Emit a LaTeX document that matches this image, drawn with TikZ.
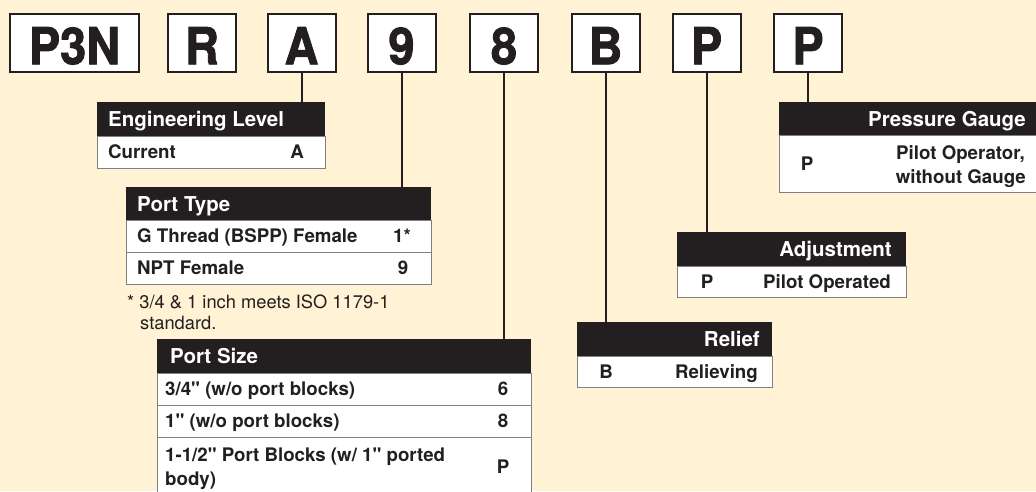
\documentclass[tikz,border=0pt]{standalone}
\usepackage{fontspec}
\setmainfont{TeX Gyre Heros}[Ligatures=TeXOff]
\newfontfamily\myheavy[FakeStretch=0.92, FakeBold=1.6]{texgyreheros-bold.otf}
\definecolor{cream}{HTML}{FFF2D5}
\definecolor{ink}{HTML}{231F20}
\definecolor{rulec}{HTML}{808080}
\newcommand\mybigfont{\myheavy\fontsize{51}{51}\selectfont}
\newcommand\myhdfont{\fontsize{20.5}{22}\selectfont\bfseries}
\newcommand\myrwfont{\fontsize{18.7}{21}\selectfont\bfseries}
\newcommand\myftfont{\fontsize{18.3}{21}\selectfont}
\newcommand\mylowr[1]{\lower3pt\hbox{#1}}
\begin{document}
\begin{tikzpicture}[x=1pt,y=-1pt,
  topbox/.style={draw=ink, line width=2pt, fill=white, minimum height=58pt,
    minimum width=68pt, inner sep=0pt, font=\mybigfont, text=ink,
    text height=36.5pt, text depth=0pt},
  headbox/.style={fill=ink, inner sep=0pt, outer sep=0pt, anchor=north west},
  bodybox/.style={fill=white, draw=rulec, line width=0.8pt, inner sep=0pt,
    outer sep=0pt, anchor=north west},
  htxt/.style={text=white, font=\myhdfont, inner sep=0pt, text height=14.7pt, text depth=0pt},
  rtxt/.style={text=ink, font=\myrwfont, inner sep=0pt, text height=13.4pt, text depth=0pt},
  ftxt/.style={text=ink, font=\myftfont, inner sep=0pt, anchor=base west},
  conn/.style={draw=ink, line width=2pt}
]
\clip (0,0) rectangle (1036,491);
\fill[cream] (0,0) rectangle (1036,491);

% top code boxes
\node[topbox, minimum width=129pt] (tP3N) at (74.5,43) {\mylowr{P3N}};
\node[topbox] (tR) at (202,43) {\mylowr{R}};
\node[topbox] (tA) at (301.5,43) {\mylowr{A}};
\node[topbox] (t9) at (401.5,43) {\mylowr{9}};
\node[topbox] (t8) at (504,43) {\mylowr{8}};
\node[topbox] (tB) at (605.5,43) {\mylowr{B}};
\node[topbox] (tP) at (706.5,43) {\mylowr{P}};
\node[topbox] (tPP) at (808,43) {\mylowr{P}};

% Engineering Level
\node[headbox, minimum width=228pt, minimum height=34pt] (engH) at (97,102) {};
\node[bodybox, minimum width=228pt, minimum height=32pt] (engB) at (97,136) {};
\node[htxt, anchor=west] (engHt) at (108,119) {Engineering Level};
\node[rtxt, anchor=west] (engR1) at (108,152) {Current};
\node[rtxt] (engR1c) at (297,152) {A};

% Port Type
\node[headbox, minimum width=305pt, minimum height=33pt] (ptH) at (126,187) {};
\node[bodybox, minimum width=305pt, minimum height=32pt] (ptB1) at (126,220) {};
\node[bodybox, minimum width=305pt, minimum height=32pt] (ptB2) at (126,252) {};
\node[htxt, anchor=west] (ptHt) at (137,204) {Port Type};
\node[rtxt, anchor=west] (ptR1) at (137,236) {G Thread (BSPP) Female};
\node[rtxt] (ptR1c) at (402,236) {1*};
\node[rtxt, anchor=west] (ptR2) at (137,268) {NPT Female};
\node[rtxt] (ptR2c) at (403,268) {9};
\node[ftxt] (fn1) at (127,308) {* 3/4 \& 1 inch meets ISO 1179-1};
\node[ftxt] (fn2) at (140,329) {standard.};

% Port Size
\node[headbox, minimum width=374pt, minimum height=34pt] (psH) at (157,339) {};
\node[bodybox, minimum width=374pt, minimum height=32pt] (psB1) at (157,373) {};
\node[bodybox, minimum width=374pt, minimum height=32pt] (psB2) at (157,405) {};
\node[bodybox, minimum width=374pt, minimum height=70pt] (psB3) at (157,437) {};
\node[htxt, anchor=west] (psHt) at (170,356) {Port Size};
\node[rtxt, anchor=west] (psR1) at (165,389) {3/4" (w/o port blocks)};
\node[rtxt] (psR1c) at (503,389) {6};
\node[rtxt, anchor=west] (psR2) at (165,421) {1" (w/o port blocks)};
\node[rtxt] (psR2c) at (503,421) {8};
\node[rtxt, anchor=west] (psR3a) at (165,455) {1-1/2" Port Blocks (w/ 1" ported};
\node[rtxt, anchor=west] (psR3b) at (165,479) {body)};
\node[rtxt] (psR3c) at (503,467) {P};

% Relief
\node[headbox, minimum width=195pt, minimum height=34pt] (rlH) at (577,322) {};
\node[bodybox, minimum width=195pt, minimum height=31pt] (rlB) at (577,356) {};
\node[htxt, anchor=east] (rlHt) at (760,339) {Relief};
\node[rtxt] (rlR1c) at (606,372) {B};
\node[rtxt, anchor=east] (rlR1) at (758,372) {Relieving};

% Adjustment
\node[headbox, minimum width=229pt, minimum height=34pt] (adH) at (677,232) {};
\node[bodybox, minimum width=229pt, minimum height=31pt] (adB) at (677,266) {};
\node[htxt, anchor=east] (adHt) at (892,249) {Adjustment};
\node[rtxt] (adR1c) at (707,282) {P};
\node[rtxt, anchor=east] (adR1) at (891,282) {Pilot Operated};

% Pressure Gauge
\node[headbox, minimum width=262pt, minimum height=33pt] (pgH) at (779,102) {};
\node[bodybox, minimum width=262pt, minimum height=57pt] (pgB) at (779,135) {};
\node[htxt, anchor=east] (pgHt) at (1026,119) {Pressure Gauge};
\node[rtxt] (pgR1c) at (807,164) {P};
\node[rtxt, anchor=east] (pgR1a) at (1025,153) {Pilot Operator,};
\node[rtxt, anchor=east] (pgR1b) at (1026,177) {without Gauge};

% connectors
\draw[conn] (tA.south) -- (tA.south |- engH.north);
\draw[conn] (t9.south) -- (t9.south |- ptH.north);
\draw[conn] (t8.south) -- (t8.south |- psH.north);
\draw[conn] (tB.south) -- (tB.south |- rlH.north);
\draw[conn] (tP.south) -- (tP.south |- adH.north);
\draw[conn] (tPP.south) -- (tPP.south |- pgH.north);
\end{tikzpicture}
\end{document}
